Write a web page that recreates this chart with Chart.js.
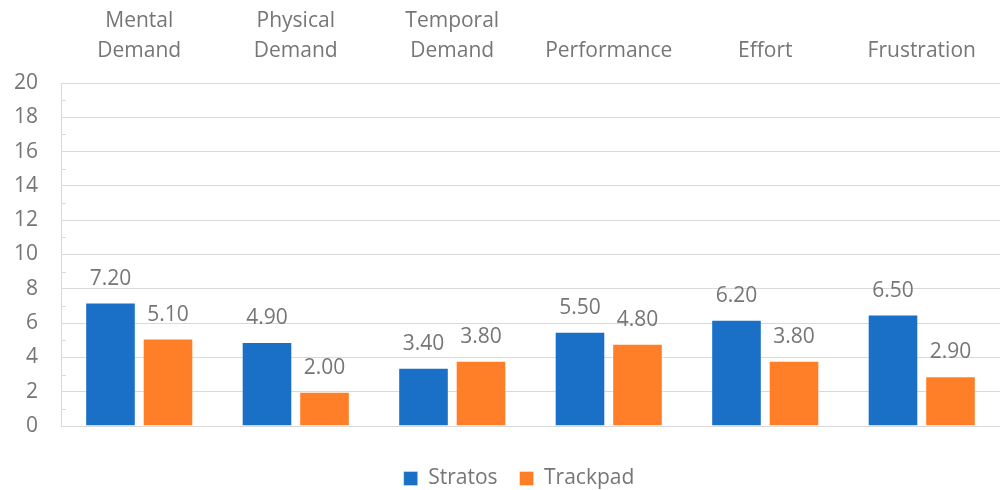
<!DOCTYPE html>
<html>
<head>
<meta charset="utf-8">
<script src="https://cdn.jsdelivr.net/npm/chart.js@4/dist/chart.umd.min.js"></script>
<style>
  html, body { margin: 0; padding: 0; background: #ffffff; }
  #wrap { width: 1005px; height: 490px; }
</style>
</head>
<body>
<div id="wrap"><canvas id="chart" width="1005" height="490"></canvas></div>
<script>
// NASA-TLX workload dimensions, shown as multi-line column headings
const categories = [
  ['Mental', 'Demand'],
  ['Physical', 'Demand'],
  ['Temporal', 'Demand'],
  'Performance',
  'Effort',
  'Frustration'
];
const stratosScores = [7.2, 4.9, 3.4, 5.5, 6.2, 6.5];
const trackpadScores = [5.1, 2.0, 3.8, 4.8, 3.8, 2.9];
const yTicks = [0, 2, 4, 6, 8, 10, 12, 14, 16, 18, 20];

const TEXT = '#767676';
const GRID = '#d9d9d9';
const FONT = 'Open Sans';
const FONT_SIZE = 21;

// Values written above each bar with two decimals
const valueLabels = {
  id: 'valueLabels',
  afterDatasetsDraw(chart) {
    const ctx = chart.ctx;
    ctx.save();
    ctx.font = `${FONT_SIZE}px "${FONT}"`;
    ctx.fillStyle = TEXT;
    ctx.textAlign = 'center';
    ctx.textBaseline = 'alphabetic';
    chart.data.datasets.forEach((ds, i) => {
      chart.getDatasetMeta(i).data.forEach((bar, j) => {
        ctx.fillText(ds.data[j].toFixed(2), bar.x, bar.y - 18);
      });
    });
    ctx.restore();
  }
};

// Short inner tick marks halfway between the labelled values
const minorTicks = {
  id: 'minorTicks',
  beforeDatasetsDraw(chart) {
    const y = chart.scales.y;
    const ctx = chart.ctx;
    ctx.save();
    ctx.strokeStyle = GRID;
    ctx.lineWidth = 1;
    for (let v = y.min + 1; v < y.max; v += 2) {
      const py = Math.round(y.getPixelForValue(v)) + 0.5;
      ctx.beginPath();
      ctx.moveTo(y.right, py);
      ctx.lineTo(y.right + 5, py);
      ctx.stroke();
    }
    ctx.restore();
  }
};

// Nudge the legend row a little to the right of the canvas centre
const legendShift = {
  id: 'legendShift',
  afterLayout(chart) {
    if (chart.legend) chart.legend.left += 38;
  }
};

new Chart(document.getElementById('chart'), {
  type: 'bar',
  data: {
    labels: categories,
    datasets: [
      {
        label: 'Stratos',
        data: stratosScores,
        backgroundColor: '#1a70c6',
        borderColor: 'rgba(255,255,255,0.35)',
        borderWidth: 1,
        categoryPercentage: 0.735,
        barPercentage: 0.88
      },
      {
        label: 'Trackpad',
        data: trackpadScores,
        backgroundColor: '#fe7f27',
        borderColor: 'rgba(255,255,255,0.35)',
        borderWidth: 1,
        categoryPercentage: 0.735,
        barPercentage: 0.88
      }
    ]
  },
  options: {
    responsive: false,
    animation: false,
    layout: { padding: { top: -11, right: 5, left: 0, bottom: -9 } },
    plugins: {
      legend: {
        position: 'bottom',
        title: { display: true, text: '', font: { size: 1, lineHeight: 1 }, padding: { top: 19, bottom: 0 } },
        labels: {
          font: { family: FONT, size: FONT_SIZE },
          color: TEXT,
          boxWidth: 14,
          boxHeight: 14,
          padding: 22,
          useBorderRadius: false
        }
      },
      tooltip: { enabled: false }
    },
    scales: {
      x: {
        position: 'top',
        grid: { display: false, drawTicks: false },
        border: { display: false },
        ticks: {
          color: TEXT,
          font: { family: FONT, size: FONT_SIZE, lineHeight: 30 / FONT_SIZE },
          padding: 17,
          maxRotation: 0,
          autoSkip: false
        }
      },
      y: {
        min: 0,
        max: 20,
        afterBuildTicks(scale) {
          const all = [];
          for (let v = 0; v <= 20; v++) all.push({ value: v });
          scale.ticks = all;
        },
        afterFit(scale) { scale.width = 61; },
        grid: {
          color: ctx => (yTicks.includes(ctx.tick.value) ? GRID : 'rgba(0,0,0,0)'),
          lineWidth: 1,
          drawTicks: false
        },
        border: { display: true, color: GRID, width: 1 },
        ticks: {
          color: TEXT,
          font: { family: FONT, size: FONT_SIZE },
          padding: 23,
          autoSkip: false,
          callback: v => (yTicks.includes(v) ? String(v) : '')
        }
      }
    }
  },
  plugins: [valueLabels, minorTicks, legendShift]
});
</script>
</body>
</html>
